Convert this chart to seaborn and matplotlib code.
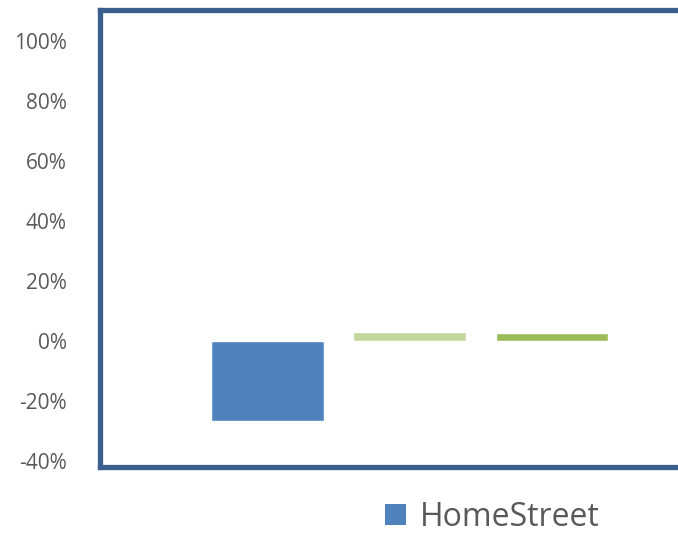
import matplotlib
matplotlib.use("Agg")
import matplotlib.pyplot as plt
import seaborn as sns
import pandas as pd
from matplotlib.patches import Patch

categories = ["HomeStreet", "Peer Group", "Index"]
values = [-26.7, 2.9, 2.6]
colors = ["#4F81BD", "#C3D69B", "#9BBB59"]
yticks = [-40, -20, 0, 20, 40, 60, 80, 100]
ytick_labels = ["-40%", "-20%", "0%", "20%", "40%", "60%", "80%", "100%"]

sns.set_theme(style="white")
plt.rcParams["font.family"] = ["Open Sans", "DejaVu Sans"]

fig = plt.figure(figsize=(6.78, 5.33), dpi=100)
ax = fig.add_axes([0.1475, 0.124, 0.8525, 0.857])

df = pd.DataFrame({"cat": categories, "val": values})
sns.barplot(data=df, x="cat", y="val", hue="cat", palette=colors,
            width=0.79, legend=False, ax=ax, saturation=1)

ax.set_xlim(-1.18, 2.89)
ax.set_ylim(-42, 110.3)
ax.set_yticks(yticks)
ax.set_yticklabels(ytick_labels, fontsize=15, color="#595959")
ax.set_xticks([])
ax.set_xlabel("")
ax.set_ylabel("")
ax.tick_params(axis="y", length=0, pad=24)

spine_color = "#3A5F8F"
for s in ["left", "top", "bottom"]:
    ax.spines[s].set_color(spine_color)
    ax.spines[s].set_linewidth(3.8)
    ax.spines[s].set_visible(True)
ax.spines["right"].set_visible(False)

handles = [Patch(facecolor=colors[0], edgecolor="none")]
fig.legend(handles, [categories[0]], loc="center", bbox_to_anchor=(0.726, 0.03),
           frameon=False, fontsize=23, handlelength=0.65, handleheight=0.65,
           handletextpad=0.45, labelcolor="#595959")

fig.savefig("out.png", dpi=100)
